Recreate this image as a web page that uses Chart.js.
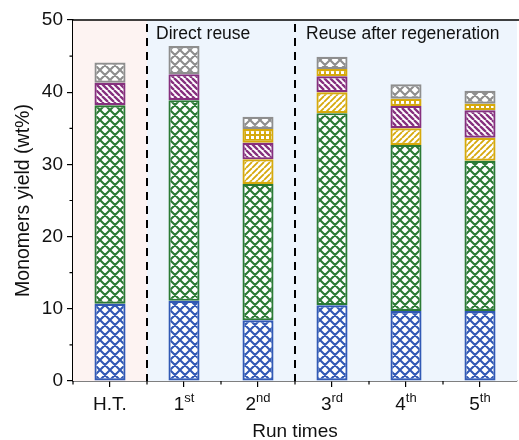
<!DOCTYPE html>
<html>
<head>
<meta charset="utf-8">
<script src="https://cdn.jsdelivr.net/npm/chart.js@4.4.1/dist/chart.umd.min.js"></script>
<style>
  body { margin: 0; background: #fff; }
  #wrap { width: 519px; height: 440px; position: relative; }
</style>
</head>
<body>
<div id="wrap"><canvas id="yieldChart"></canvas></div>
<script>
// categories and superscript suffixes for the x ticks
var runBase = ['H.T.', '1', '2', '3', '4', '5'];
var runSup = ['', 'st', 'nd', 'rd', 'th', 'th'];
var runLabels = ['H.T.', '1st', '2nd', '3rd', '4th', '5th'];

// stacked segments, bottom to top (wt%)
var comp1 = [10.7, 11.1, 8.4, 10.5, 9.7, 9.7];
var comp2 = [27.5, 27.8, 18.9, 26.6, 23.0, 20.8];
var comp3 = [null, null, 3.4, 2.9, 2.3, 3.2];
var comp4 = [3.1, 3.6, 2.3, 2.2, 3.1, 3.8];
var comp5 = [null, null, 1.9, 1.0, 1.0, 0.9];
var comp6 = [2.8, 3.9, 1.7, 1.7, 2.0, 1.8];

var yTicks = [0, 10, 20, 30, 40, 50];

var FONT = '"Liberation Sans", Arial, sans-serif';

// hatch fills
function hatch(color, kind) {
  var s = kind === 'cross' ? 10 : (kind === 'grid' ? 5 : 6);
  var c = document.createElement('canvas');
  c.width = s; c.height = s;
  var g = c.getContext('2d');
  g.fillStyle = '#fff';
  g.fillRect(0, 0, s, s);
  g.strokeStyle = color;
  if (kind === 'grid') {
    g.fillStyle = color;
    g.fillRect(0, 0, s, s);
    g.fillStyle = '#fff';
    g.fillRect(1, 1, 3, 3);
  } else {
    g.lineWidth = kind === 'cross' ? 2.1 : (kind === 'back' ? 2.3 : 1.8);
    g.beginPath();
    [-s, 0, s].forEach(function (dx) {
      if (kind === 'cross' || kind === 'back') {
        g.moveTo(dx, 0); g.lineTo(dx + s, s);
      }
      if (kind === 'cross' || kind === 'fwd') {
        g.moveTo(dx + s, 0); g.lineTo(dx, s);
      }
    });
    g.stroke();
  }
  return g.createPattern(c, 'repeat');
}

var cBlue = '#3159b5';
var cGreen = '#2b7a35';
var cYellow = '#d6a90c';
var cPurple = '#86307e';
var cGrey = '#8e8e8e';

function seg(label, data, color, kind) {
  return {
    label: label,
    data: data,
    backgroundColor: hatch(color, kind),
    borderColor: color,
    borderWidth: 2.2,
    borderSkipped: false,
    stack: 's'
  };
}

var bgPlugin = {
  id: 'regions',
  beforeDatasetsDraw: function (chart) {
    var ctx = chart.ctx, a = chart.chartArea, x = chart.scales.x;
    var cut1 = (x.getPixelForValue(0) + x.getPixelForValue(1)) / 2;
    var cut2 = (x.getPixelForValue(2) + x.getPixelForValue(3)) / 2;
    ctx.save();
    ctx.fillStyle = '#fdf3f2';
    ctx.fillRect(a.left, a.top, cut1 - a.left, a.bottom - a.top);
    ctx.fillStyle = '#eef5fd';
    ctx.fillRect(cut1, a.top, a.right - cut1, a.bottom - a.top);
    ctx.strokeStyle = '#000';
    ctx.lineWidth = 2;
    ctx.setLineDash([8, 6]);
    [cut1, cut2].forEach(function (cx) {
      ctx.beginPath();
      ctx.moveTo(cx, a.top + 4);
      ctx.lineTo(cx, a.bottom);
      ctx.stroke();
    });
    ctx.setLineDash([]);
    ctx.fillStyle = '#111';
    ctx.font = '17.5px ' + FONT;
    ctx.textBaseline = 'alphabetic';
    ctx.textAlign = 'left';
    ctx.fillText('Direct reuse', cut1 + 9, a.top + 19);
    ctx.fillText('Reuse after regeneration', cut2 + 11, a.top + 19);
    ctx.restore();
  },
  afterDraw: function (chart) {
    var ctx = chart.ctx, a = chart.chartArea, x = chart.scales.x, y = chart.scales.y;
    ctx.save();
    ctx.strokeStyle = '#000';
    ctx.lineWidth = 1.5;
    // top frame
    ctx.beginPath();
    ctx.moveTo(a.left, a.top);
    ctx.lineTo(a.right + 2, a.top);
    ctx.stroke();
    // minor ticks
    ctx.lineWidth = 1.2;
    ctx.beginPath();
    for (var v = 5; v < 50; v += 10) {
      var py = y.getPixelForValue(v);
      ctx.moveTo(a.left, py); ctx.lineTo(a.left - 3.5, py);
    }
    for (var i = 0; i < runLabels.length; i++) {
      var px = i === 0 ? a.left : (x.getPixelForValue(i - 1) + x.getPixelForValue(i)) / 2;
      ctx.moveTo(px, a.bottom); ctx.lineTo(px, a.bottom + 3.5);
    }
    ctx.stroke();
    // x tick labels with superscripts
    ctx.fillStyle = '#111';
    ctx.textBaseline = 'alphabetic';
    ctx.textAlign = 'left';
    for (var j = 0; j < runBase.length; j++) {
      ctx.font = '19px ' + FONT;
      var wb = ctx.measureText(runBase[j]).width;
      ctx.font = '13px ' + FONT;
      var ws = ctx.measureText(runSup[j]).width;
      var cx = x.getPixelForValue(j) - (wb + ws) / 2;
      var base = a.bottom + 29;
      ctx.font = '19px ' + FONT;
      ctx.fillText(runBase[j], cx, base);
      ctx.font = '13px ' + FONT;
      ctx.fillText(runSup[j], cx + wb, base - 8);
    }
    ctx.restore();
  }
};

new Chart(document.getElementById('yieldChart').getContext('2d'), {
  type: 'bar',
  data: {
    labels: runLabels,
    datasets: [
      seg('Component 1', comp1, cBlue, 'cross'),
      seg('Component 2', comp2, cGreen, 'cross'),
      seg('Component 3', comp3, cYellow, 'fwd'),
      seg('Component 4', comp4, cPurple, 'back'),
      seg('Component 5', comp5, cYellow, 'grid'),
      seg('Component 6', comp6, cGrey, 'cross')
    ]
  },
  options: {
    responsive: true,
    maintainAspectRatio: false,
    animation: false,
    layout: { padding: { left: 0, right: 2, top: 20, bottom: 0 } },
    datasets: { bar: { categoryPercentage: 1, barPercentage: 0.42 } },
    plugins: { legend: { display: false }, tooltip: { enabled: false } },
    scales: {
      x: {
        stacked: true,
        offset: true,
        grid: { offset: false, drawOnChartArea: false, drawTicks: true, tickLength: 6, color: '#000', lineWidth: 1.2 },
        border: { display: true, color: '#000', width: 1.5 },
        ticks: { color: 'rgba(0,0,0,0)', font: { size: 19, family: FONT }, padding: 4 },
        title: { display: true, text: 'Run times', color: '#111', font: { size: 19, family: FONT }, padding: { top: 0, bottom: -3 } },
        afterFit: function (s) { s.height = 59; }
      },
      y: {
        stacked: true,
        min: 0,
        max: 50,
        afterBuildTicks: function (s) { s.ticks = yTicks.map(function (v) { return { value: v }; }); },
        grid: { drawOnChartArea: false, drawTicks: true, tickLength: 6, color: '#000', lineWidth: 1.2 },
        border: { display: true, color: '#000', width: 1.5 },
        ticks: { color: '#111', font: { size: 19, family: FONT }, padding: 4 },
        title: { display: true, text: 'Monomers yield (wt%)', color: '#111', font: { size: 19.5, family: FONT }, padding: { top: 12, bottom: 0 } },
        afterFit: function (s) { s.width = 73; }
      }
    }
  },
  plugins: [bgPlugin]
});
</script>
</body>
</html>
